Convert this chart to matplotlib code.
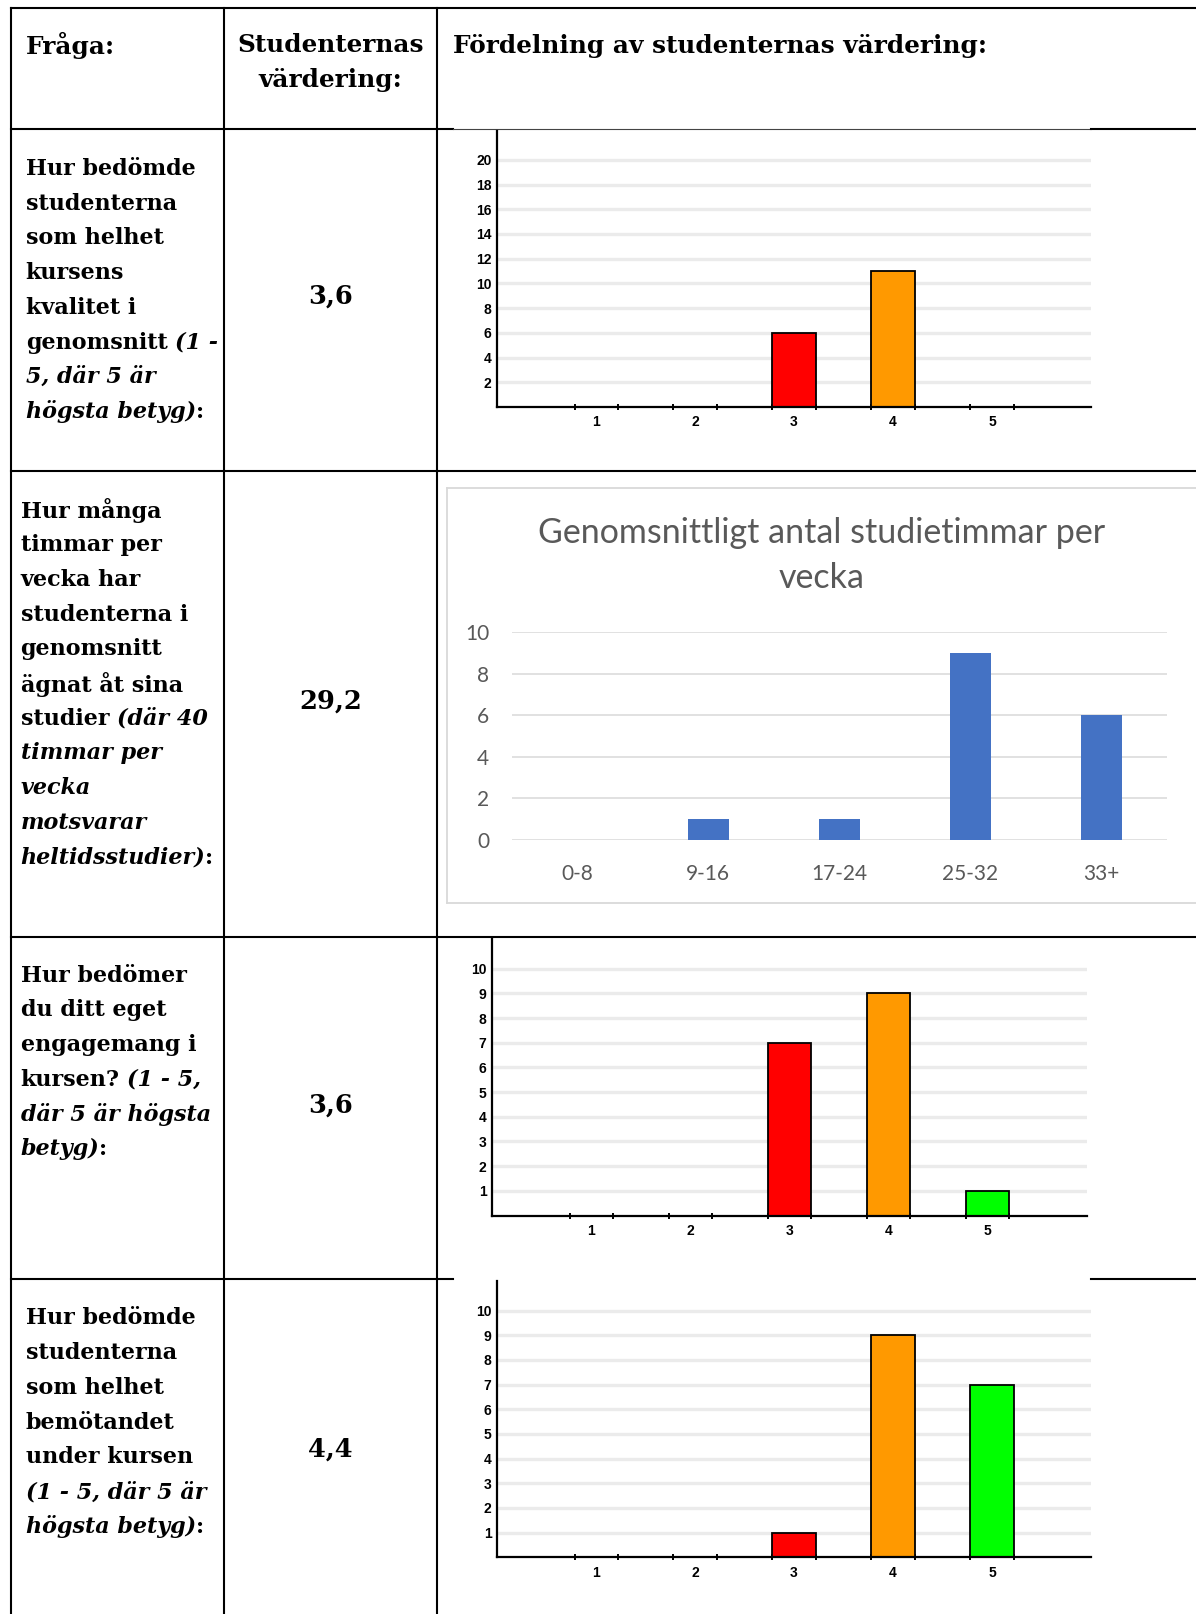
import matplotlib
matplotlib.use("Agg")
import matplotlib.pyplot as plt
from matplotlib.ticker import FixedLocator

# ---------------- data ----------------
header_question = "Fråga:"
header_value = ["Studenternas", "värdering:"]
header_dist = "Fördelning av studenternas värdering:"

# each line: list of (text, style) ; 'b' bold, 'bi' bold italic, 'b0' bold no space
q1_lines = [
    [("Hur bedömde", "b")],
    [("studenterna", "b")],
    [("som helhet", "b")],
    [("kursens", "b")],
    [("kvalitet i", "b")],
    [("genomsnitt", "b"), ("(1 -", "bi")],
    [("5, där 5 är", "bi")],
    [("högsta betyg)", "bi"), (":", "b0")],
]
q2_lines = [
    [("Hur många", "b")],
    [("timmar per", "b")],
    [("vecka har", "b")],
    [("studenterna i", "b")],
    [("genomsnitt", "b")],
    [("ägnat åt sina", "b")],
    [("studier", "b"), ("(där 40", "bi")],
    [("timmar per", "bi")],
    [("vecka", "bi")],
    [("motsvarar", "bi")],
    [("heltidsstudier)", "bi"), (":", "b0")],
]
q3_lines = [
    [("Hur bedömer", "b")],
    [("du ditt eget", "b")],
    [("engagemang i", "b")],
    [("kursen?", "b"), ("(1 - 5,", "bi")],
    [("där 5 är högsta", "bi")],
    [("betyg)", "bi"), (":", "b0")],
]
q4_lines = [
    [("Hur bedömde", "b")],
    [("studenterna", "b")],
    [("som helhet", "b")],
    [("bemötandet", "b")],
    [("under kursen", "b")],
    [("(1 - 5, där 5 är", "bi")],
    [("högsta betyg)", "bi"), (":", "b0")],
]
average_values = ["3,6", "29,2", "3,6", "4,4"]

rating_labels = ["1", "2", "3", "4", "5"]
rating_colors = ["#CC0000", "#FF6600", "#FF0000", "#FF9900", "#00FF00"]
q1_counts = [0, 0, 6, 11, 0]
q1_yticks = [2, 4, 6, 8, 10, 12, 14, 16, 18, 20]
q3_counts = [0, 0, 7, 9, 1]
q3_yticks = [1, 2, 3, 4, 5, 6, 7, 8, 9, 10]
q4_counts = [0, 0, 1, 9, 7]
q4_yticks = [1, 2, 3, 4, 5, 6, 7, 8, 9, 10]

hours_title = ["Genomsnittligt antal studietimmar per", "vecka"]
hours_labels = ["0-8", "9-16", "17-24", "25-32", "33+"]
hours_counts = [0, 1, 1, 9, 6]
hours_yticks = [0, 2, 4, 6, 8, 10]

# ---------------- figure ----------------
W, H = 1196, 1614
fig = plt.figure(figsize=(W / 100, H / 100), dpi=100)
bg = fig.add_axes([0, 0, 1, 1])
bg.set_xlim(0, W)
bg.set_ylim(H, 0)
bg.axis("off")
renderer = fig.canvas.get_renderer()

SERIF = ["DejaVu Serif"]
TXT = 16
HDR = 17.8
VAL = 18.5

def ax_px(x0, y0, x1, y1):
    return fig.add_axes([x0 / W, 1 - y1 / H, (x1 - x0) / W, (y1 - y0) / H])

# table lines
LW = 1.5
bg.plot([11.3, W], [8.2, 8.2], color="black", lw=LW)
for x in (11.3, 224.4, 437.4):
    bg.plot([x, x], [8.2, H], color="black", lw=LW)
bg.plot([11.3, 452.9], [128.7, 128.7], color="black", lw=LW)
bg.plot([452.9, 1091], [128.7, 128.7], color="#444444", lw=0.8)
bg.plot([1091, W], [128.7, 128.7], color="black", lw=LW)
bg.plot([11.3, W], [471.4, 471.4], color="black", lw=LW)
bg.plot([11.3, W], [936.6, 936.6], color="black", lw=LW)
bg.plot([11.3, 452.9], [1279.4, 1279.4], color="black", lw=LW)
bg.plot([1091, W], [1279.4, 1279.4], color="black", lw=LW)

# header
bg.text(25.7, 45.5, header_question, family=SERIF, weight="bold", size=HDR,
        va="center", ha="left")
for i, s in enumerate(header_value):
    bg.text(330.4, 45.5 + i * 35, s, family=SERIF, weight="bold", size=HDR,
            va="center", ha="center")
bg.text(452.9, 45.5, header_dist, family=SERIF, weight="bold", size=HDR,
        va="center", ha="left")

def seg_width(s, style):
    t = bg.text(0, 0, s, family=SERIF, weight="bold",
                style="italic" if style == "bi" else "normal", size=TXT)
    w = t.get_window_extent(renderer).width
    t.remove()
    return w

space_w = seg_width("x x", "b") - seg_width("xx", "b")

def draw_lines(x0, y0, lines, step=34.7):
    for i, line in enumerate(lines):
        x = x0
        y = y0 + i * step
        for j, (s, style) in enumerate(line):
            if j > 0 and style != "b0":
                x += space_w
            t = bg.text(x, y, s, family=SERIF, weight="bold",
                        style="italic" if style == "bi" else "normal",
                        size=TXT, va="center", ha="left")
            x += t.get_window_extent(renderer).width

draw_lines(25.7, 169.0, q1_lines)
draw_lines(20.6, 510.5, q2_lines)
draw_lines(20.6, 975.7, q3_lines)
draw_lines(25.7, 1318.5, q4_lines)

for s, y in zip(average_values, [296.4, 700.9, 1105.4, 1449.2]):
    bg.text(330.4, y, s, family=SERIF, weight="bold", size=VAL,
            va="center", ha="center")

# ---------------- rating charts ----------------
NARROW = ["Liberation Sans Narrow", "Liberation Sans", "DejaVu Sans"]

def rating_chart(x0, top, zero_y, x1, ppu, counts, yticks):
    ax = ax_px(x0, top, x1, zero_y)
    ax.set_xlim(0, 6)
    ax.set_ylim(0, (zero_y - top) / ppu)
    pos = list(range(1, len(counts) + 1))
    ax.bar(pos, counts, width=0.436, color=rating_colors,
           edgecolor="black", linewidth=1.3, zorder=3)
    for sp in ("top", "right"):
        ax.spines[sp].set_visible(False)
    for sp in ("left", "bottom"):
        ax.spines[sp].set_linewidth(1.6)
        ax.spines[sp].set_color("black")
        ax.spines[sp].set_zorder(4)
    ax.set_yticks(yticks)
    ax.set_yticklabels([str(v) for v in yticks])
    ax.yaxis.grid(True, color="#EBEBEB", linewidth=2.4, zorder=0)
    ax.set_axisbelow(True)
    ax.tick_params(axis="y", length=0, pad=4)
    ax.set_xticks(pos)
    ax.set_xticklabels(rating_labels)
    ax.tick_params(axis="x", which="major", length=0, pad=6)
    edges = []
    for p in pos:
        edges += [p - 0.218, p + 0.218]
    ax.xaxis.set_minor_locator(FixedLocator(edges))
    ax.tick_params(axis="x", which="minor", direction="inout", length=5,
                   width=1.4, color="black")
    for lab in ax.get_xticklabels() + ax.get_yticklabels():
        lab.set_family(NARROW)
        lab.set_weight("bold")
        lab.set_fontsize(10)
    return ax

rating_chart(497.1, 130.7, 407.0, 1091.0, 12.36, q1_counts, q1_yticks)
rating_chart(492.0, 938.7, 1215.5, 1086.9, 24.67, q3_counts, q3_yticks)
rating_chart(497.1, 1281.4, 1557.3, 1091.0, 24.67, q4_counts, q4_yticks)

# ---------------- hours chart (Excel style) ----------------
BOX = "#D9D9D9"
bg.plot([446.7, W], [487.9, 487.9], color=BOX, lw=1.3)
bg.plot([446.7, W], [902.7, 902.7], color=BOX, lw=1.3)
bg.plot([446.7, 446.7], [487.9, 902.7], color=BOX, lw=1.3)

CAL = ["Lato", "DejaVu Sans"]
GREY = "#595959"
for i, s in enumerate(hours_title):
    bg.text(821.4, 533 + i * 45.4, s, family=CAL, size=24.5, color=GREY,
            ha="center", va="center")

ax2 = ax_px(511.6, 632.0, 1167.2, 839.9)
ax2.set_xlim(-0.5, len(hours_counts) - 0.5)
ax2.set_ylim(0, 10)
ax2.bar(range(len(hours_counts)), hours_counts, width=0.313,
        color="#4472C4", zorder=3)
for sp in ax2.spines.values():
    sp.set_visible(False)
ax2.set_yticks(hours_yticks)
ax2.set_yticklabels([str(v) for v in hours_yticks])
ax2.yaxis.grid(True, color=BOX, linewidth=1.1, zorder=0)
ax2.set_axisbelow(True)
ax2.set_xticks(range(len(hours_counts)))
ax2.set_xticklabels(hours_labels)
ax2.tick_params(axis="y", length=0, pad=16, labelcolor=GREY)
ax2.tick_params(axis="x", length=0, pad=17, labelcolor=GREY)
for lab in ax2.get_xticklabels() + ax2.get_yticklabels():
    lab.set_family(CAL)
    lab.set_fontsize(15)

fig.savefig("out.png", dpi=100)
